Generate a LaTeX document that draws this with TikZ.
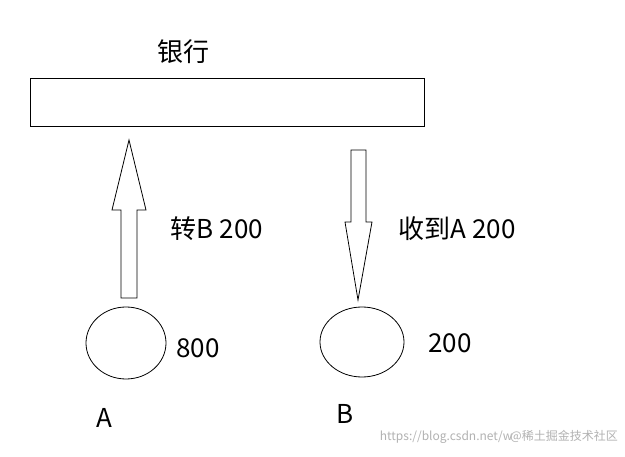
\documentclass[tikz,border=0pt]{standalone}
\usepackage{fontspec}
\usetikzlibrary{shapes.geometric}
\setmainfont{Noto Sans CJK SC}
\begin{document}
\begin{tikzpicture}[x=1pt,y=-1pt,
  lbl/.style={font=\fontsize{26}{30}\selectfont, inner sep=0pt},
  shp/.style={draw=black, line width=0.8pt, fill=white}]
\useasboundingbox[fill=white] (0,0) rectangle (625,457);
\node[lbl] (bank) at (183,52) {银行};
\node[shp, minimum width=394pt, minimum height=48pt, anchor=north west, inner sep=0pt] (box) at (30,78) {};
\draw[shp] (121,298) -- (121,210) -- (112,210) -- (129,140) -- (146,210) -- (137,210) -- (137,298) -- cycle;
\draw[shp] (351,150) -- (351,222) -- (345,222) -- (358,300) -- (372,222) -- (366,222) -- (366,150) -- cycle;
\node[lbl] (t1) at (217,229) {转B 200};
\node[lbl] (t2) at (457,229) {收到A 200};
\node[shp, ellipse, inner sep=0pt, minimum width=80pt, minimum height=72pt] (ea) at (126,343) {};
\node[shp, ellipse, inner sep=0pt, minimum width=84pt, minimum height=70pt] (eb) at (362,342) {};
\node[lbl] (n1) at (198,348) {800};
\node[lbl] (n2) at (450,343) {200};
\node[lbl] (la) at (104,418) {A};
\node[lbl] (lb) at (345,414) {B};
\node[font=\fontsize{12}{14}\selectfont, text=black!30, anchor=east, inner sep=0pt] (wm) at (618,437) {https://blog.csdn.net/w\hspace{-2pt}@稀土掘金技术社区};
\end{tikzpicture}
\end{document}
